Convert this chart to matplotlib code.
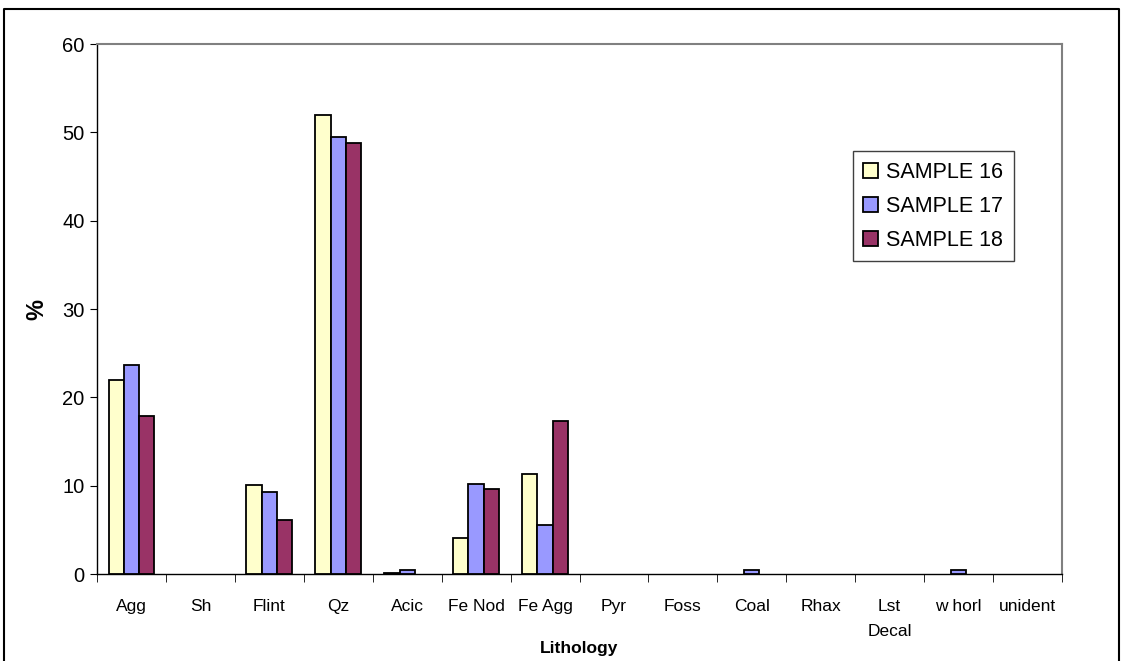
import numpy as np
import matplotlib
matplotlib.use("Agg")
import matplotlib.pyplot as plt
from matplotlib.lines import Line2D

plt.rcParams['font.family'] = ['Liberation Sans', 'DejaVu Sans']

categories = ['Agg', 'Sh', 'Flint', 'Qz', 'Acic', 'Fe Nod', 'Fe Agg', 'Pyr',
              'Foss', 'Coal', 'Rhax', 'Lst\nDecal', 'w horl', 'unident']
sample16 = [22.0, 0, 10.1, 52.0, 0.1, 4.1, 11.3, 0, 0, 0, 0, 0, 0, 0]
sample17 = [23.7, 0, 9.3, 49.5, 0.4, 10.2, 5.5, 0, 0, 0.4, 0, 0, 0.5, 0]
sample18 = [17.9, 0, 6.1, 48.8, 0, 9.6, 17.3, 0, 0, 0, 0, 0, 0, 0]
series_names = ['SAMPLE 16', 'SAMPLE 17', 'SAMPLE 18']
colors = ['#FFFFCC', '#9999FF', '#993366']

fig = plt.figure(figsize=(11.22, 6.61), dpi=100)
ax = fig.add_axes([0.0865, 0.1316, 0.86, 0.8018])

x = np.arange(len(categories))
w = 0.222
for i, (vals, name, c) in enumerate(zip([sample16, sample17, sample18], series_names, colors)):
    vals = np.array(vals)
    keep = vals > 0  # empty categories show no bar at all
    ax.bar(x[keep] + (i - 1) * w, vals[keep], width=w, color=c, edgecolor='black',
           linewidth=1.3, label=name, zorder=3)

ax.set_xlim(-0.5, len(categories) - 0.5)
ax.set_ylim(0, 60)
ax.set_yticks(range(0, 61, 10))
ax.tick_params(axis='y', labelsize=14.5, length=5, direction='out', pad=4)

ax.set_xticks(x)
ax.set_xticklabels(categories, fontsize=12.5, va='top', linespacing=1.8)
ax.tick_params(axis='x', length=0, pad=18)
ax.set_xticks(np.arange(-0.5, len(categories), 1), minor=True)
ax.tick_params(axis='x', which='minor', length=6, direction='out')

for s in ['top', 'right']:
    ax.spines[s].set_color('#808080')
    ax.spines[s].set_linewidth(1.5)
for s in ['left', 'bottom']:
    ax.spines[s].set_color('black')
    ax.spines[s].set_linewidth(1.0)

ax.set_xlabel('Lithology', fontsize=12.5, fontweight='bold', labelpad=2)
ax.set_ylabel('%', fontsize=17, fontweight='bold', labelpad=10)

ax.legend(loc='upper left', bbox_to_anchor=(0.783, 0.798), fontsize=15.5,
          frameon=True, fancybox=False, edgecolor='#404040', framealpha=1,
          handlelength=0.7, handleheight=0.7, handletextpad=0.35,
          labelspacing=0.6, borderpad=0.5, borderaxespad=0)

# outer chart border
x0, x1, ytop = 4 / 1122, 1119 / 1122, 1 - 9 / 661
fig.add_artist(Line2D([x0, x0, x1, x1], [0, ytop, ytop, 0], color='black',
                      linewidth=1.5, transform=fig.transFigure))

fig.savefig('out.png', dpi=100)
